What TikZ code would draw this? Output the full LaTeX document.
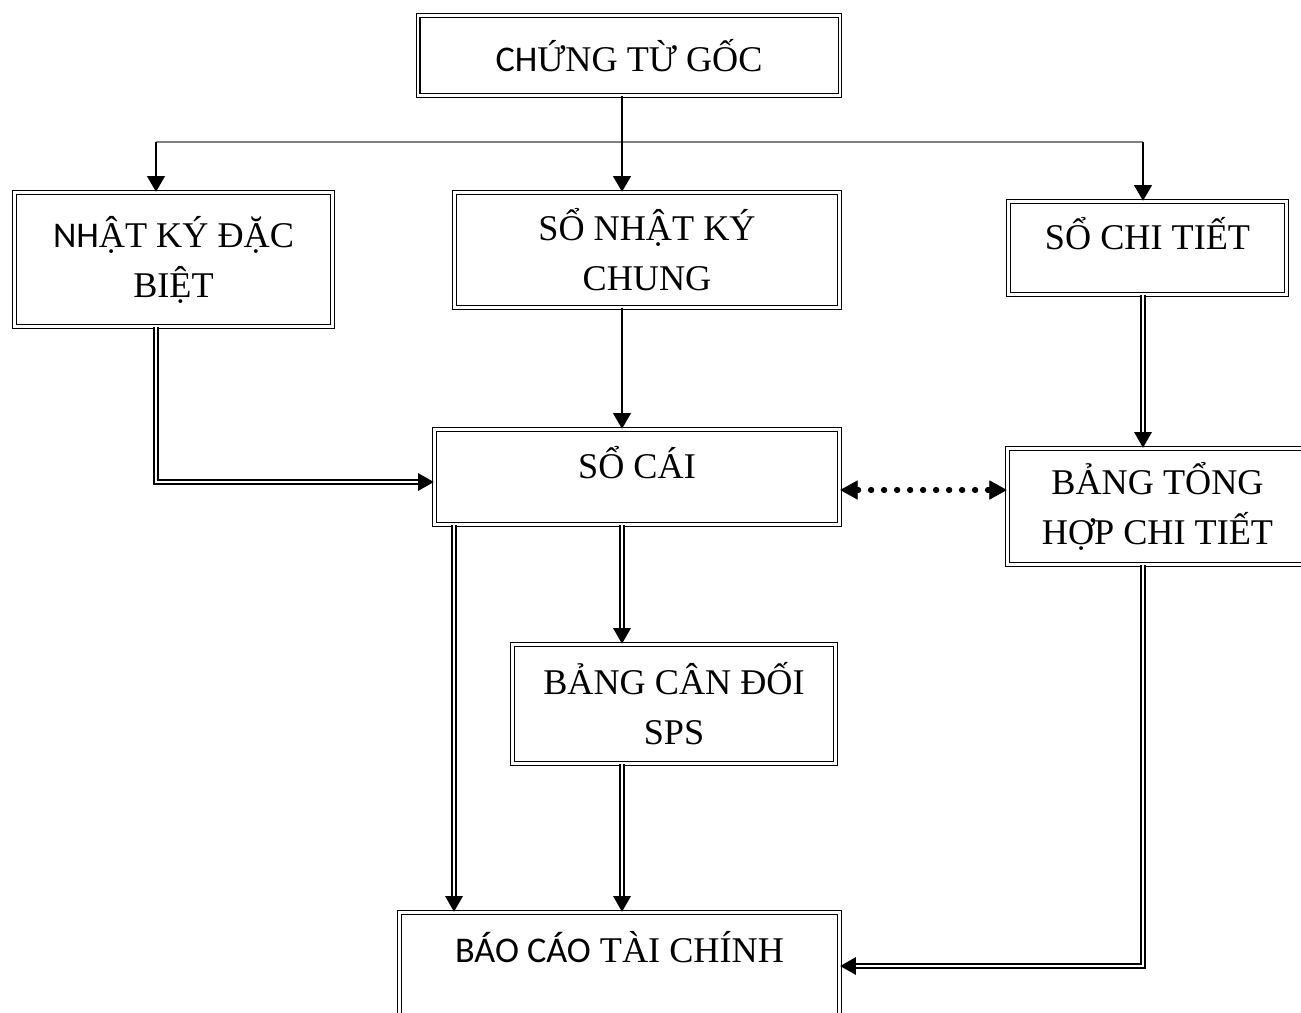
\documentclass[tikz,border=0pt]{standalone}
\usepackage{fontspec}
\setmainfont{Liberation Serif}
\newfontfamily\calib{Carlito}
\usetikzlibrary{arrows.meta}

\begin{document}
\begin{tikzpicture}[x=.02cm,y=-.02cm,
    box/.style={draw,double,line width=.8pt,double distance=1.2pt,align=center,
      inner sep=0pt,font=\fontsize{20.6}{28.4}\selectfont},
    topline/.style={text height=14pt,text depth=12.4pt},
    one/.style={line width=1.5pt,-{Triangle[length=9pt,width=10pt]}},
    two/.style={double,line width=.9pt,double distance=1.1pt,
      -{Triangle[length=9pt,width=10pt]}}]
  \useasboundingbox (0,0) rectangle (1301,1012);
  \node[box,minimum width=8.44cm,minimum height=1.6cm] (goc) at (629,55.5)
    {{\calib CH}ỨNG TỪ GỐC};
  \node[box,minimum width=6.36cm,minimum height=2.68cm] (nkdb) at (173.5,259.5)
    {{\calib NH}ẬT KÝ ĐẶC\\BIỆT};
  \node[box,minimum width=7.7cm,minimum height=2.3cm] (nkc) at (647,250)
    {SỔ NHẬT KÝ\\CHUNG};
  \node[box,topline,minimum width=5.56cm,minimum height=1.86cm] (sct) at (1147.5,248)
    {SỔ CHI TIẾT};
  \node[box,topline,minimum width=8.1cm,minimum height=1.9cm] (socai) at (637,477)
    {SỔ CÁI};
  \node[box,minimum width=6cm,minimum height=2.32cm] (bth) at (1157.5,506.5)
    {BẢNG TỔNG\\HỢP CHI TIẾT};
  \node[box,minimum width=6.46cm,minimum height=2.38cm] (bcd) at (674,704)
    {BẢNG CÂN ĐỐI\\SPS};
  \node[box,text height=14pt,text depth=18.4pt,minimum width=8.8cm,
    minimum height=2.14cm] (bctc) at (619.5,966) {{\calib BÁO CÁO} TÀI CHÍNH};
  % columns and rows of the connectors
  \coordinate (c1) at (156,142); \coordinate (c2) at (622,142);
  \coordinate (c3) at (1143,142); \coordinate (c4) at (454,0);
  \coordinate (r1) at (0,482); \coordinate (r2) at (0,490);
  \draw[gray,line width=.6pt] (c1) -- (c3);
  \draw[one] (goc.south -| c2) -- (nkc.north -| c2);
  \draw[one] (c1) -- (nkdb.north -| c1);
  \draw[one] (c3) -- (sct.north -| c3);
  \draw[one] (nkc.south -| c2) -- (socai.north -| c2);
  \draw[two] (nkdb.south -| c1) |- (socai.west |- r1);
  \draw[two] (sct.south -| c3) -- (bth.north -| c3);
  \draw[line width=3pt,line cap=round,dash pattern=on .6pt off 6.8pt,
    {Triangle[length=10pt,width=11pt,line width=.4pt]}-{Triangle[length=10pt,width=11pt,line width=.4pt]}]
    (socai.east |- r2) -- (bth.west |- r2);
  \draw[two] (socai.south -| c4) -- (bctc.north -| c4);
  \draw[two] (socai.south -| c2) -- (bcd.north -| c2);
  \draw[two] (bcd.south -| c2) -- (bctc.north -| c2);
  \draw[two] (bth.south -| c3) |- (bctc.east);
\end{tikzpicture}
\end{document}
